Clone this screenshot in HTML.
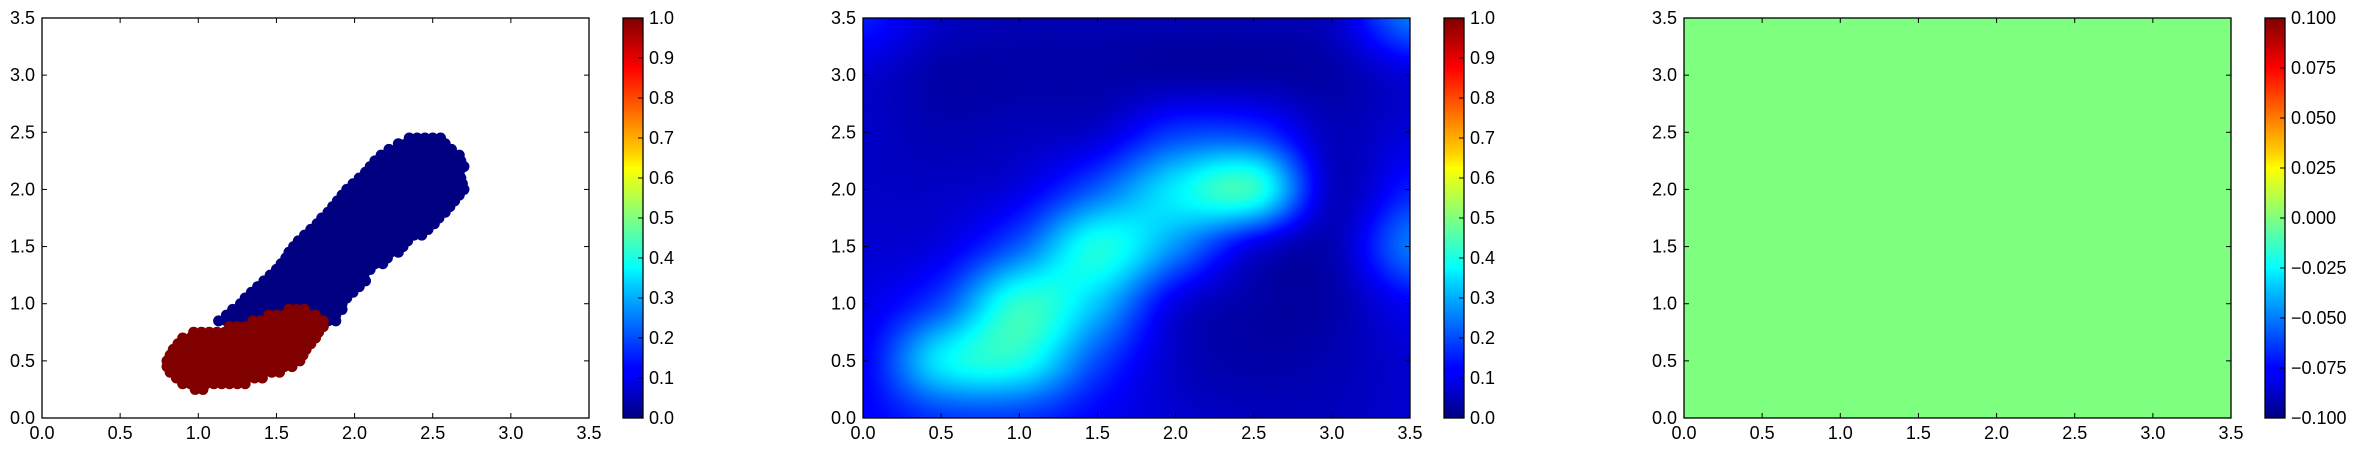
<!DOCTYPE html>
<html><head><meta charset="utf-8">
<style>
html,body{margin:0;padding:0;background:#fff;}
svg text{font-family:"Liberation Sans",sans-serif;font-size:18px;fill:#000;}
</style></head>
<body>
<svg id="fig" width="2361" height="452" xmlns="http://www.w3.org/2000/svg">
<defs>
<linearGradient id="jet" x1="0" y1="1" x2="0" y2="0">
<stop offset="0" stop-color="#000080"/><stop offset="0.11" stop-color="#0000ff"/>
<stop offset="0.125" stop-color="#0000ff"/><stop offset="0.34" stop-color="#00d4ff"/>
<stop offset="0.375" stop-color="#00ffff"/><stop offset="0.5" stop-color="#80ff80"/>
<stop offset="0.625" stop-color="#ffff00"/><stop offset="0.66" stop-color="#ffd400"/>
<stop offset="0.875" stop-color="#ff0000"/><stop offset="1" stop-color="#800000"/>
</linearGradient>
</defs>
</svg>
<script>
// ---- data ----
const axisTicks = [0,0.5,1,1.5,2,2.5,3,3.5];
const axisTickLabels = ["0.0","0.5","1.0","1.5","2.0","2.5","3.0","3.5"];
// scatter rows: y, xmin, xmax
const blueRowY   = [0.85,0.90,0.95,1.00,1.05,1.10,1.15,1.20,1.25,1.30,1.35,1.40,1.45,1.50,1.55,1.60,1.65,1.70,1.75,1.80,1.85,1.90,1.95,2.00,2.05,2.10,2.15,2.20,2.25,2.30,2.35,2.40,2.45];
const blueRowMin = [1.13,1.18,1.22,1.27,1.30,1.34,1.38,1.42,1.46,1.50,1.53,1.56,1.58,1.61,1.64,1.68,1.72,1.76,1.79,1.83,1.86,1.89,1.92,1.95,1.99,2.03,2.07,2.10,2.13,2.17,2.22,2.28,2.35];
const blueRowMax = [1.88,1.90,1.93,1.95,1.97,2.00,2.03,2.07,2.10,2.14,2.18,2.23,2.28,2.33,2.38,2.43,2.48,2.53,2.57,2.61,2.65,2.68,2.70,2.70,2.70,2.70,2.70,2.70,2.70,2.70,2.66,2.60,2.55];
const redRowY   = [0.25,0.30,0.35,0.40,0.45,0.50,0.55,0.60,0.65,0.70,0.75,0.80,0.85,0.90,0.95];
const redRowMin = [0.98,0.90,0.86,0.82,0.80,0.80,0.82,0.84,0.87,0.90,0.97,1.20,1.35,1.45,1.58];
const redRowMax = [1.06,1.30,1.45,1.55,1.60,1.65,1.68,1.72,1.75,1.78,1.80,1.80,1.80,1.78,1.72];
// heatmap grid values, rows from y=3.5 down to y=0, cols x=0..3.5
const heatRows = [
 [0.15,0.07,0.05,0.05,0.05,0.05,0.07,0.24],
 [0.08,0.04,0.04,0.04,0.04,0.04,0.04,0.09],
 [0.07,0.05,0.06,0.08,0.18,0.18,0.06,0.09],
 [0.07,0.07,0.10,0.22,0.36,0.42,0.07,0.15],
 [0.08,0.10,0.22,0.40,0.27,0.10,0.05,0.24],
 [0.10,0.20,0.42,0.32,0.10,0.04,0.04,0.12],
 [0.12,0.36,0.40,0.20,0.07,0.04,0.05,0.08],
 [0.12,0.18,0.18,0.12,0.08,0.06,0.06,0.08]];
const cb1Ticks = [0,0.1,0.2,0.3,0.4,0.5,0.6,0.7,0.8,0.9,1.0];
const cb1Labels = ["0.0","0.1","0.2","0.3","0.4","0.5","0.6","0.7","0.8","0.9","1.0"];
const cb3Ticks = [-0.1,-0.075,-0.05,-0.025,0,0.025,0.05,0.075,0.1];
const cb3Labels = ["\u22120.100","\u22120.075","\u22120.050","\u22120.025","0.000","0.025","0.050","0.075","0.100"];
const flatValue = 0.0;

// ---- layout ----
const NS="http://www.w3.org/2000/svg";
const svg=document.getElementById('fig');
const T=18,B=418,W=547,H=400;
const panelX=[42,863,1684];
function el(tag,attrs,parent){const e=document.createElementNS(NS,tag);for(const k in attrs)e.setAttribute(k,attrs[k]);(parent||svg).appendChild(e);return e;}
function sx(p,v){return panelX[p]+v/3.5*W;}
function sy(v){return B-v/3.5*H;}
function jet(v){v=Math.max(0,Math.min(1,v));
 const r=Math.max(0,Math.min(1,Math.min(4*v-1.5,-4*v+4.5)));
 const g=Math.max(0,Math.min(1,Math.min(4*v-0.5,-4*v+3.5)));
 const b=Math.max(0,Math.min(1,Math.min(4*v+0.5,-4*v+2.5)));
 return [r*255|0,g*255|0,b*255|0];}

function axes(p,name){
 const g=el('g',{},svg);
 
 
 const x0=panelX[p];
 axisTicks.forEach((t,i)=>{
  const x=sx(p,t), y=sy(t);
  el('line',{x1:x,y1:B,x2:x,y2:B-5,stroke:'#000','stroke-width':1},g);
  el('line',{x1:x,y1:T,x2:x,y2:T+5,stroke:'#000','stroke-width':1},g);
  el('line',{x1:x0,y1:y,x2:x0+5,y2:y,stroke:'#000','stroke-width':1},g);
  el('line',{x1:x0+W,y1:y,x2:x0+W-5,y2:y,stroke:'#000','stroke-width':1},g);
  const tx=el('text',{x:x,y:B+21,'text-anchor':'middle'},g);tx.textContent=axisTickLabels[i];
  
  
  const ty=el('text',{x:x0-7,y:y+6,'text-anchor':'end'},g);ty.textContent=axisTickLabels[i];
  
  
 });
 const fr=el('rect',{x:x0,y:T,width:W,height:H,fill:'none',stroke:'#000','stroke-width':1.3},g);
 
 
}
function colorbar(p,ticks,labels,vmin,vmax,name){
 const g=el('g',{},svg);
 
 
 const x=panelX[p]+581;
 el('rect',{x:x,y:T,width:20,height:H,fill:'url(#jet)',stroke:'#000','stroke-width':1.3},g);
 ticks.forEach((t,i)=>{
  const y=B-(t-vmin)/(vmax-vmin)*H;
  el('line',{x1:x+20,y1:y,x2:x+15,y2:y,stroke:'#000','stroke-width':1},g);
  const tx=el('text',{x:x+26,y:y+6},g);tx.textContent=labels[i];
  
  
 });
}

// Panel 1: scatter
const sg=el('g',{},svg);


function rows(Y,MN,MX,color,cls){
 Y.forEach((y,i)=>{
  for(let x=MN[i];x<=MX[i]+1e-6;x+=0.05){
   const c=el('circle',{cx:sx(0,x),cy:sy(y),r:5.5,fill:color},sg);
   
   
  }
 });
}
rows(blueRowY,blueRowMin,blueRowMax,'#000080','point-class-0');
rows(redRowY,redRowMin,redRowMax,'#800000','point-class-1');
axes(0,'scatter');
colorbar(0,cb1Ticks,cb1Labels,0,1,'colorbar-1');

// Panel 2: heatmap (bicubic Catmull-Rom interpolation of grid)
const cv=document.createElement('canvas');cv.width=W;cv.height=H;
const ctx=cv.getContext('2d');const img=ctx.createImageData(W,H);
const n=heatRows[0].length-1,m=heatRows.length-1;
function gv(r,c){r=Math.max(0,Math.min(m,r));c=Math.max(0,Math.min(n,c));return heatRows[r][c];}
function cr(p0,p1,p2,p3,t){return 0.5*((2*p1)+(-p0+p2)*t+(2*p0-5*p1+4*p2-p3)*t*t+(-p0+3*p1-3*p2+p3)*t*t*t);}
for(let py=0;py<H;py++){
 const fy=py/(H-1)*m, iy=Math.min(m-1,Math.floor(fy)), ty=fy-iy;
 for(let px=0;px<W;px++){
  const fx=px/(W-1)*n, ix=Math.min(n-1,Math.floor(fx)), tx=fx-ix;
  const rr=[];
  for(let k=-1;k<=2;k++)rr.push(cr(gv(iy+k,ix-1),gv(iy+k,ix),gv(iy+k,ix+1),gv(iy+k,ix+2),tx));
  const v=cr(rr[0],rr[1],rr[2],rr[3],ty);
  const col=jet(v);const k=(py*W+px)*4;
  img.data[k]=col[0];img.data[k+1]=col[1];img.data[k+2]=col[2];img.data[k+3]=255;
 }
}
ctx.putImageData(img,0,0);
const hm=el('image',{x:panelX[1],y:T,width:W,height:H,href:cv.toDataURL()},svg);


axes(1,'heatmap');
colorbar(1,cb1Ticks,cb1Labels,0,1,'colorbar-2');

// Panel 3: flat field
const fc=jet((flatValue+0.1)/0.2);
const fl=el('rect',{x:panelX[2],y:T,width:W,height:H,fill:`rgb(${fc[0]},${fc[1]},${fc[2]})`},svg);


axes(2,'flat');
colorbar(2,cb3Ticks,cb3Labels,-0.1,0.1,'colorbar-3');
</script>
</body></html>
